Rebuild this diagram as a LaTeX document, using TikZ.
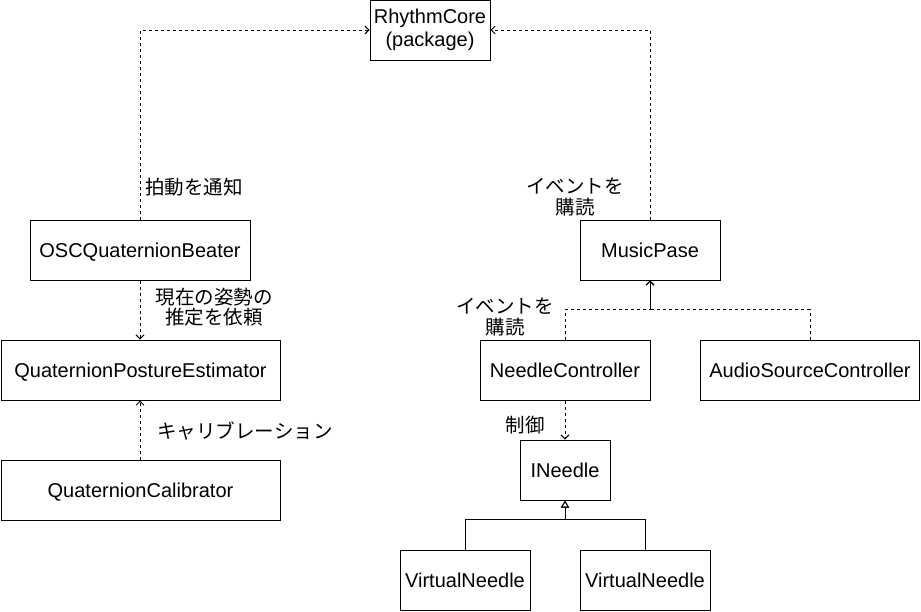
\documentclass[tikz,border=0pt]{standalone}
\usepackage{fontspec}
\setmainfont{Liberation Sans}
\newfontfamily\jp{Noto Sans CJK JP}
\usetikzlibrary{arrows.meta}
\begin{document}
\begin{tikzpicture}[x=1pt,y=-1pt,
 box/.style={draw, line width=1pt, minimum height=60pt, inner sep=0pt, font=\fontsize{20}{23}\selectfont, align=center},
 one/.style={box, text height=14.3pt, text depth=0pt},
 dep/.style={line width=0.9pt, dash pattern=on 3pt off 3pt, -{Straight Barb[length=4pt,width=8pt]}},
 inh/.style={line width=0.9pt, -{Triangle[open,length=7pt,width=8pt]}},
 lbl/.style={font=\jp\fontsize{19.5}{20.5}\selectfont, align=center, inner sep=0pt}]
\useasboundingbox[fill=white] (0,0) rectangle (921,611);
\node[box, minimum width=120pt] (rc) at (430,30) {RhythmCore\\(package)};
\node[one, minimum width=220pt] (osc) at (140,250) {OSCQuaternionBeater};
\node[one, minimum width=279pt] (qpe) at (140.5,370) {QuaternionPostureEstimator};
\node[one, minimum width=279pt] (qc) at (140.5,490) {QuaternionCalibrator};
\node[one, minimum width=140pt] (mp) at (650,250) {MusicPase};
\node[one, minimum width=170pt] (nc) at (565,370) {NeedleController};
\node[one, minimum width=219pt] (asc) at (810,370) {AudioSourceController};
\node[one, minimum width=90pt] (in) at (565,470) {INeedle};
\node[one, minimum width=130pt] (vn1) at (465,580) {VirtualNeedle};
\node[one, minimum width=130pt] (vn2) at (645,580) {VirtualNeedle};

\node[lbl] (l1) at (194,187) {拍動を通知};
\node[lbl] (l2) at (214,307) {現在の姿勢の\\推定を依頼};
\node[lbl] (l3) at (245,431) {キャリブレーション};
\node[lbl] (l4) at (575,197) {イベントを\\購読};
\node[lbl] (l5) at (505,317) {イベントを\\購読};
\node[lbl] (l6) at (525,425) {制御};

\draw[dep] (osc.north) |- (rc.west);
\draw[dep] (mp.north) |- (rc.east);
\draw[dep] (osc.south) -- (qpe.north -| osc.south);
\draw[dep] (qc.north -| osc.south) -- (qpe.south -| osc.south);
\draw[dep] (nc.north) -- ++(0,-30) -| (mp.south);
\draw[dep] (asc.north) -- ++(0,-30) -| (mp.south);
\draw[dep] (nc.south) -- (in.north);
\draw[inh] (vn1.north) -- ++(0,-30) -| (in.south);
\draw[inh] (vn2.north) -- ++(0,-30) -| (in.south);
\end{tikzpicture}
\end{document}
